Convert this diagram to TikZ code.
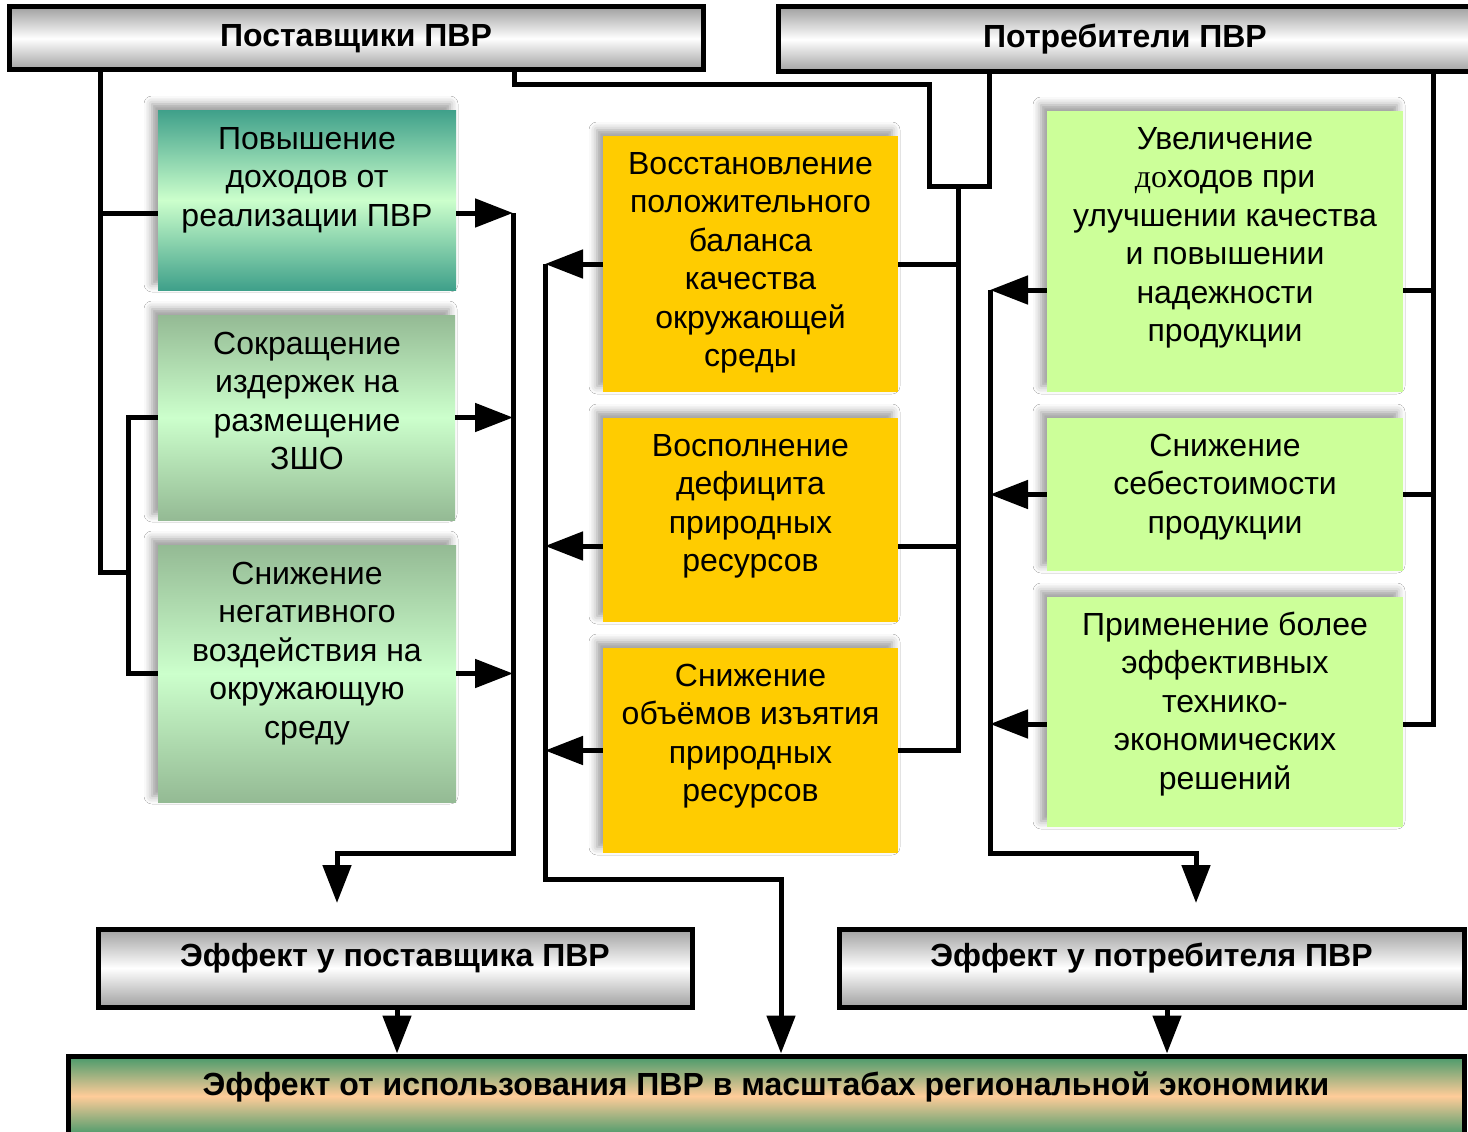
\documentclass[tikz,border=0pt]{standalone}
\usepackage{fontspec}
\setmainfont{Liberation Sans}
\newfontfamily\serifdo{Liberation Serif}
\usetikzlibrary{arrows.meta,shadows.blur}
\definecolor{tealc}{HTML}{3FA08A}
\definecolor{lightc}{HTML}{CCFFCC}
\definecolor{sagec}{HTML}{94BA94}
\definecolor{yellowc}{HTML}{FFCC00}
\definecolor{limec}{HTML}{CCFF99}
\definecolor{hgray}{HTML}{A0A0A0}
\definecolor{barg}{HTML}{45996A}
\definecolor{peach}{HTML}{FFCC99}
\tikzset{
  conn/.style={line width=5pt},
  arr/.style={line width=5pt,-{Triangle[length=38pt,width=28pt]}},
  box/.style={inner sep=0pt, blur shadow={shadow xshift=-6pt, shadow yshift=6pt, shadow blur radius=8pt, shadow opacity=40}},
  tealbox/.style={box, top color=tealc, bottom color=tealc, middle color=lightc},
  sagebox/.style={box, top color=sagec, bottom color=sagec, middle color=lightc},
  yelbox/.style={box, fill=yellowc},
  limebox/.style={box, fill=limec},
  hdr/.style={draw=black, line width=5pt, inner sep=0pt, top color=hgray, bottom color=hgray, middle color=white, font=\fontsize{32}{38}\selectfont\bfseries},
  txt/.style={align=center, inner sep=0pt, anchor=north, font=\fontsize{32}{38.5}\selectfont},
  btxt/.style={inner sep=0pt, font=\fontsize{32}{38}\selectfont\bfseries},
}
\begin{document}
\begin{tikzpicture}[x=1pt,y=-1pt]
\clip (0,0) rectangle (1468,1132);
\fill[white] (0,0) rectangle (1468,1132);
% coloured boxes
\node[tealbox, minimum width=298pt, minimum height=180pt] (b1) at (307,200) {};
\node[sagebox, minimum width=297pt, minimum height=205pt] (b2) at (306.5,417.5) {};
\node[sagebox, minimum width=298pt, minimum height=257pt] (b3) at (307,673.5) {};
\node[yelbox, minimum width=295pt, minimum height=256pt] (y1) at (750.5,264) {};
\node[yelbox, minimum width=295pt, minimum height=204pt] (y2) at (750.5,520) {};
\node[yelbox, minimum width=295pt, minimum height=205pt] (y3) at (750.5,750.5) {};
\node[limebox, minimum width=356pt, minimum height=281pt] (g1) at (1225,251.5) {};
\node[limebox, minimum width=356pt, minimum height=153pt] (g2) at (1225,494.5) {};
\node[limebox, minimum width=356pt, minimum height=230pt] (g3) at (1225,712) {};
% texts
\node[txt] (b1t) at (307,122) {\strut Повышение\\доходов от\\реализации ПВР};
\node[txt] (b2t) at (307,327) {\strut Сокращение\\издержек на\\размещение\\ЗШО};
\node[txt] (b3t) at (307,557) {\strut Снижение\\негативного\\воздействия на\\окружающую\\среду};
\node[txt] (y1t) at (750.5,147) {\strut Восстановление\\положительного\\баланса\\качества\\окружающей\\среды};
\node[txt] (y2t) at (750.5,429) {\strut Восполнение\\дефицита\\природных\\ресурсов};
\node[txt] (y3t) at (750.5,659) {\strut Снижение\\объёмов изъятия\\природных\\ресурсов};
\node[txt] (g1t) at (1225,122) {\strut Увеличение\\{\serifdo до}ходов при\\улучшении качества\\и повышении\\надежности\\продукции};
\node[txt] (g2t) at (1225,429) {\strut Снижение\\себестоимости\\продукции};
\node[txt] (g3t) at (1225,608) {\strut Применение более\\эффективных\\технико-\\экономических\\решений};
% coordinates
\coordinate (lf) at (100,572);
\coordinate (lf2) at (128,572);
\coordinate (lR) at (513,213);
\coordinate (lB) at (513,853);
\coordinate (lD) at (337,853);
\coordinate (lT) at (337,903);
\coordinate (t1) at (514,85);
\coordinate (t2) at (929,85);
\coordinate (t3) at (929,186);
\coordinate (t4) at (989,186);
\coordinate (cv) at (958,186);
\coordinate (cL1) at (545,264);
\coordinate (cL2) at (545,879);
\coordinate (cL3) at (781,879);
\coordinate (rv) at (1433,724);
\coordinate (rc1) at (990,290);
\coordinate (rc2) at (990,853);
\coordinate (rc3) at (1196,853);
\coordinate (rc4) at (1196,903);
\coordinate (e1a) at (397,0);
\coordinate (e2a) at (1167,0);
% header / effect boxes
\node[hdr, minimum width=694pt, minimum height=63pt] (h1) at (356,38.5) {Поставщики ПВР};
\node[hdr, minimum width=694pt, minimum height=65pt] (h2) at (1125,39.5) {Потребители ПВР};
\node[hdr, minimum width=594pt, minimum height=78pt] (e1) at (395,968) {};
\node[hdr, minimum width=625pt, minimum height=78pt] (e2) at (1151.5,968) {};
\node[draw=black, line width=5pt, inner sep=0pt, top color=barg, bottom color=barg, middle color=peach, minimum width=1396pt, minimum height=80pt] (bar) at (766,1096) {};
\node[btxt] (e1t) at (395,958) {Эффект у поставщика ПВР};
\node[btxt] (e2t) at (1151.5,958) {Эффект у потребителя ПВР};
\node[btxt] (bart) at (766,1087) {Эффект от использования ПВР в масштабах региональной экономики};
% suppliers feed
\draw[conn] (h1.south -| lf) -- (lf) -- (lf2);
\draw[conn] ([yshift=-13pt]b1.west) -- ([yshift=-13pt]b1.west -| lf);
\draw[conn] (b2.west) -- (b2.west -| lf2) -- (b3.west -| lf2) -- (b3.west);
% supplier effects
\draw[arr] ([yshift=-13pt]b1.east) -- ([yshift=-13pt]b1.east -| lR);
\draw[arr] (b2.east) -- (b2.east -| lR);
\draw[arr] (b3.east) -- (b3.east -| lR);
\draw[arr] (lR) -- (lB) -- (lD) -- (lT);
% centre feed
\draw[conn] (h1.south -| t1) -- (t1) -- (t2) -- (t3) -- (t4) -- (h2.south -| t4);
\draw[conn] (cv) -- (y3.east -| cv) -- (y3.east);
\draw[conn] (y1.east) -- (y1.east -| cv);
\draw[conn] ([yshift=-26pt]y2.east) -- ([yshift=-26pt]y2.east -| cv);
% centre effects
\draw[arr] (y1.west) -- (y1.west -| cL1);
\draw[arr] ([yshift=-26pt]y2.west) -- ([yshift=-26pt]y2.west -| cL1);
\draw[arr] (y3.west) -- (y3.west -| cL1);
\draw[arr] (cL1) -- (cL2) -- (cL3) -- (cL3 |- bar.north);
% consumers feed
\draw[conn] (h2.south -| rv) -- (rv) -- ([yshift=-12pt]g3.east);
\draw[conn] ([yshift=-38.5pt]g1.east) -- ([yshift=-38.5pt]g1.east -| rv);
\draw[conn] (g2.east) -- (g2.east -| rv);
% consumer effects
\draw[arr] ([yshift=-38.5pt]g1.west) -- ([yshift=-38.5pt]g1.west -| rc1);
\draw[arr] (g2.west) -- (g2.west -| rc1);
\draw[arr] ([yshift=-12pt]g3.west) -- ([yshift=-12pt]g3.west -| rc1);
\draw[arr] (rc1) -- (rc2) -- (rc3) -- (rc4);
% into the bottom bar
\draw[arr] (e1.south -| e1a) -- (e1a |- bar.north);
\draw[arr] (e2.south -| e2a) -- (e2a |- bar.north);
\end{tikzpicture}
\end{document}
